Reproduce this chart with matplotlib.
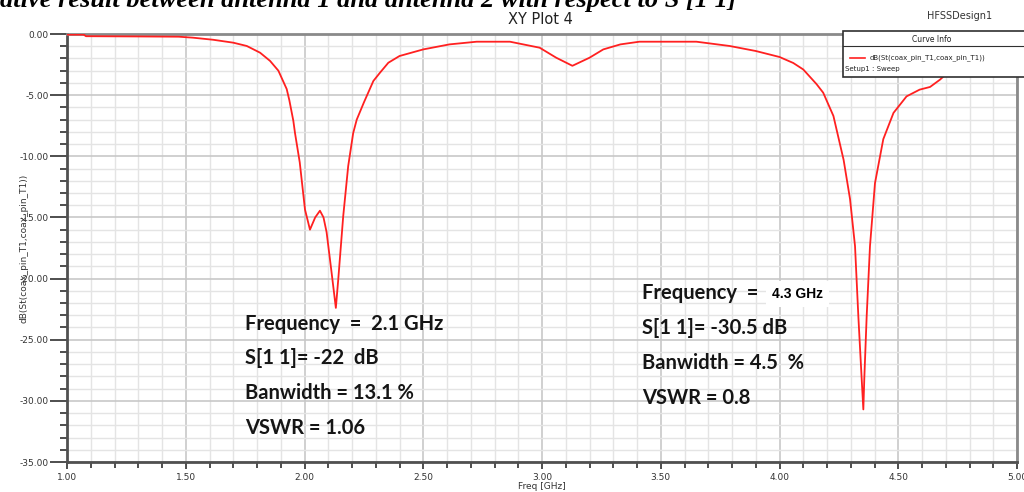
import matplotlib
matplotlib.use("Agg")
import matplotlib.pyplot as plt
from matplotlib.lines import Line2D
from matplotlib.patches import Rectangle
from matplotlib.ticker import MultipleLocator

# S11 curve
freq = [1.00, 1.07, 1.08, 1.30, 1.47, 1.53, 1.615, 1.70, 1.757, 1.813,
        1.855, 1.89, 1.925, 1.936, 1.953, 1.96, 1.98, 2.002, 2.023, 2.045,
        2.065, 2.08, 2.093, 2.114, 2.132, 2.142, 2.163, 2.184, 2.205, 2.22,
        2.25, 2.29, 2.318, 2.353, 2.40, 2.50, 2.61, 2.725, 2.865, 2.99,
        3.06, 3.128, 3.20, 3.258, 3.33, 3.41, 3.65, 3.79, 3.90, 4.00,
        4.058, 4.10, 4.156, 4.184, 4.227, 4.27, 4.297, 4.318, 4.332, 4.346,
        4.353, 4.357, 4.367, 4.381, 4.402, 4.437, 4.48, 4.535, 4.59, 4.634,
        4.676, 4.70, 4.80, 4.90, 5.00]
s11 = [-0.05, -0.05, -0.18, -0.2, -0.22, -0.3, -0.47, -0.71, -0.98, -1.53,
       -2.2, -3.0, -4.5, -5.4, -7.1, -8.1, -10.5, -14.35, -16.0, -15.0,
       -14.45, -15.0, -16.2, -19.5, -22.4, -20.1, -14.9, -10.8, -8.1, -7.0,
       -5.6, -3.84, -3.16, -2.35, -1.8, -1.26, -0.85, -0.63, -0.63, -1.12,
       -1.94, -2.6, -1.94, -1.26, -0.85, -0.63, -0.63, -0.98, -1.39, -1.88,
       -2.37, -2.9, -4.1, -4.8, -6.7, -10.3, -13.5, -17.35, -23.1, -28.2,
       -30.7, -28.2, -23.1, -17.35, -12.2, -8.6, -6.45, -5.1, -4.55, -4.33,
       -3.73, -3.3, -2.3, -1.8, -1.5]

xticks = [1.00, 1.50, 2.00, 2.50, 3.00, 3.50, 4.00, 4.50, 5.00]
yticks = [0.00, -5.00, -10.00, -15.00, -20.00, -25.00, -30.00, -35.00]

note1 = ["Frequency  =  2.1 GHz", "S[1 1]= -22  dB", "Banwidth = 13.1 %", "VSWR = 1.06"]
note2 = ["Frequency  =  ", "S[1 1]= -30.5 dB", "Banwidth = 4.5  %", "VSWR = 0.8"]

fig = plt.figure(figsize=(10.24, 4.92), dpi=100)
ax = fig.add_axes([67 / 1024, 1 - 462 / 492, 950 / 1024, 428 / 492])

ax.plot(freq, s11, color="#ff2020", lw=1.3, zorder=3)

ax.set_xlim(1.0, 5.0)
ax.set_ylim(-35.0, 0.0)
ax.set_xticks(xticks)
ax.set_yticks(yticks)
ax.set_xticklabels([f"{v:.2f}" for v in xticks])
ax.set_yticklabels([f"{v:.2f}" for v in yticks])
ax.xaxis.set_minor_locator(MultipleLocator(0.1))
ax.yaxis.set_minor_locator(MultipleLocator(1.0))
ax.grid(which="major", color="#c8c8c8", lw=1.2, zorder=0)
ax.grid(which="minor", color="#e4e4e4", lw=1.0, zorder=0)
ax.tick_params(which="both", color="#404040", width=1.3, direction="out")
ax.tick_params(axis="y", which="major", length=12, labelsize=6.5, labelcolor="#333333", pad=1)
ax.tick_params(axis="y", which="minor", length=5)
ax.tick_params(axis="x", which="major", length=5, labelsize=6.5, labelcolor="#333333", pad=3)
ax.tick_params(axis="x", which="minor", length=4)
ax.tick_params(axis="y", which="both", left=True, right=False)
ax.tick_params(axis="x", which="both", bottom=True, top=False)
for name, sp in ax.spines.items():
    sp.set_color("#505050" if name in ("left", "bottom") else "#8a8a8a")
    sp.set_linewidth(2.0)

ax.set_xlabel("Freq [GHz]", fontsize=6.5, color="#333333", labelpad=0)
ax.set_ylabel("dB(St(coax_pin_T1,coax_pin_T1))", fontsize=6.5, color="#333333", labelpad=-6)

fig.text(0.0, 1 - 7 / 492, "ative result between antenna 1 and antenna 2 with respect to S [1 1]",
         ha="left", va="baseline", fontsize=19, fontweight="bold", fontstyle="italic",
         family="Liberation Serif", color="black")
fig.text(540 / 1024, 1 - 19 / 492, "XY Plot 4", ha="center", va="center", fontsize=10.5,
         color="#222222")
fig.text(960 / 1024, 1 - 16 / 492, "HFSSDesign1", ha="center", va="center", fontsize=7,
         color="#333333")

# curve info box
box_l, box_r, box_t, box_b = 843 / 1024, 1030 / 1024, 1 - 31 / 492, 1 - 77 / 492
fig.patches.append(Rectangle((box_l, box_b), box_r - box_l, box_t - box_b,
                             transform=fig.transFigure, facecolor="white",
                             edgecolor="#303030", lw=1.2, zorder=5))
fig.lines.append(Line2D([box_l, box_r], [1 - 46 / 492] * 2, transform=fig.transFigure,
                        color="#303030", lw=0.8, zorder=6))
fig.text(932 / 1024, 1 - 40 / 492, "Curve Info", ha="center", va="center", fontsize=5.5,
         color="#222222", zorder=7)
fig.lines.append(Line2D([850 / 1024, 865 / 1024], [1 - 58 / 492] * 2, transform=fig.transFigure,
                        color="#ff2020", lw=1.2, zorder=6))
fig.text(870 / 1024, 1 - 58 / 492, "dB(St(coax_pin_T1,coax_pin_T1))", ha="left", va="center",
         fontsize=5, color="#222222", zorder=7)
fig.text(845 / 1024, 1 - 69 / 492, "Setup1 : Sweep", ha="left", va="center", fontsize=5,
         color="#222222", zorder=7)

# annotations
nfont = dict(family="Lato", fontweight="bold", fontsize=14.5, color="#151515")
for i, line in enumerate(note1):
    fig.text(245 / 1024, 1 - (324 + 34.5 * i) / 492, line, ha="left", va="center", **nfont)
for i, line in enumerate(note2):
    fig.text(642 / 1024, 1 - (293 + 35 * i) / 492, line, ha="left", va="center", **nfont)
fig.text(772 / 1024, 1 - 294 / 492, "4.3 GHz", ha="left", va="center", fontsize=10,
         fontweight="bold", color="black", family="Liberation Sans",
         bbox=dict(facecolor="white", edgecolor="none", pad=4))

fig.savefig("out.png", dpi=100)
